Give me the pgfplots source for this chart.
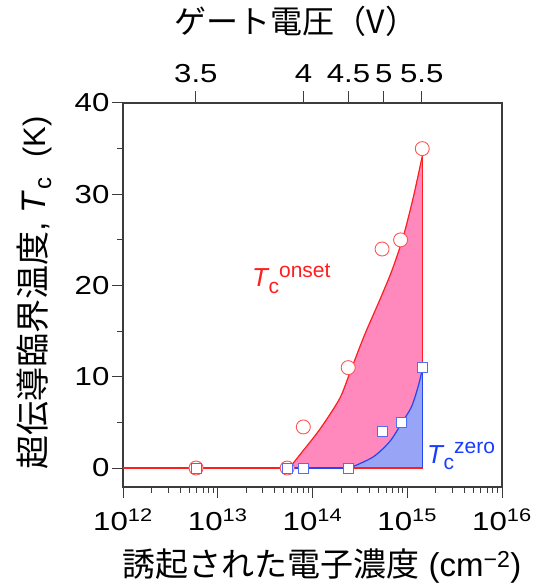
\documentclass[border=0pt]{standalone}
\usepackage{fontspec}
\setmainfont{Liberation Sans}
\newfontfamily\jp{Noto Sans CJK JP}
\usepackage{pgfplots}
\pgfplotsset{compat=1.18}
\definecolor{pinkfill}{RGB}{255,136,188}
\definecolor{bluefill}{RGB}{152,164,245}
\definecolor{redline}{RGB}{255,30,30}
\definecolor{blueline}{RGB}{40,70,240}
\definecolor{circ}{RGB}{255,85,85}
\definecolor{sq}{RGB}{80,110,245}
\definecolor{txtblue}{RGB}{25,60,255}
\definecolor{axgray}{RGB}{60,60,60}
\newcommand{\tickfont}{\fontsize{26}{26}\selectfont}
\begin{document}
\begin{tikzpicture}
\path[use as bounding box] (-123pt,-100pt) rectangle (411pt,487pt);
\begin{axis}[
  at={(0,0)}, anchor=south west, scale only axis,
  width=379pt, height=384pt,
  xmode=log, xmin=1e12, xmax=1e16, ymin=-2.08, ymax=40,
  axis line style={line width=1.1pt, draw=axgray},
  every tick/.style={line width=1.0pt, draw=axgray},
  tick align=outside,
  major tick length=11pt, minor tick length=6pt,
  xtick pos=bottom, ytick pos=left,
  xtick={1e12,1e13,1e14,1e15,1e16},
  xticklabels={10\textsuperscript{12},10\textsuperscript{13},10\textsuperscript{14},10\textsuperscript{15},10\textsuperscript{16}},
  minor xtick={2e12,3e12,4e12,5e12,6e12,7e12,8e12,9e12,2e13,3e13,4e13,5e13,6e13,7e13,8e13,9e13,2e14,3e14,4e14,5e14,6e14,7e14,8e14,9e14,2e15,3e15,4e15,5e15,6e15,7e15,8e15,9e15},
  ytick={0,10,20,30,40}, yticklabels={0,10,20,30,40},
  minor ytick={5,15,25,35},
  ticklabel style={font=\tickfont, xscale=1.2, inner sep=2pt},
  xticklabel style={yshift=-9pt},
]
% fills
\addplot[draw=none, fill=pinkfill] coordinates {
 (5.71e13,0) (7.28e13,1.4) (1.186e14,4.2) (1.932e14,7.6) (2.512e14,10.6)
 (3.548e14,14.6) (5.117e14,18.4) (6.918e14,21.7) (9.036e14,25.3)
 (1.148e15,29.5) (1.449e15,34.3) (1.449e15,0)};
\addplot[draw=none, fill=bluefill] coordinates {
 (2.466e14,0) (4.345e14,1.2) (6.531e14,2.9) (8.69e14,4.9) (1.107e15,6.7)
 (1.300e15,8.9) (1.449e15,10.9) (1.449e15,0)};
% red line
\addplot[redline, line width=1.2pt] coordinates {(1e12,0) (5.71e13,0)};
\addplot[redline, line width=1.2pt, smooth, tension=0.5] coordinates {
 (5.71e13,0) (7.28e13,1.4) (1.186e14,4.2) (1.932e14,7.6) (2.512e14,10.6)
 (3.548e14,14.6) (5.117e14,18.4) (6.918e14,21.7) (9.036e14,25.3)
 (1.148e15,29.5) (1.449e15,34.3)};
\addplot[redline, line width=1.2pt] coordinates {(1.449e15,34.3) (1.449e15,0) (5.71e13,0)};
% blue line
\addplot[blueline, line width=1.2pt] coordinates {(5.5e13,0) (2.466e14,0)};
\addplot[blueline, line width=1.2pt, smooth, tension=0.5] coordinates {
 (2.466e14,0) (4.345e14,1.2) (6.531e14,2.9) (8.69e14,4.9) (1.107e15,6.7)
 (1.300e15,8.9) (1.449e15,10.9)};
\addplot[blueline, line width=1.2pt] coordinates {(1.449e15,10.9) (1.449e15,0)};
% onset circles
\addplot[only marks, mark=*, mark size=7pt, mark options={fill=white, draw=circ, line width=0.9pt}] coordinates {
 (5.9e12,0) (5.4e13,0) (8.0e13,4.5) (2.38e14,11) (5.42e14,24) (8.5e14,25) (1.44e15,35)};
% zero squares
\addplot[only marks, mark=square*, mark size=5pt, mark options={fill=white, draw=sq, line width=0.9pt}] coordinates {
 (5.9e12,0) (5.4e13,0) (8.1e13,0) (2.37e14,0) (5.46e14,4) (8.67e14,5) (1.44e15,11)};
\end{axis}
\begin{axis}[
  at={(0,0)}, anchor=south west, scale only axis,
  width=379pt, height=384pt,
  xmode=log, xmin=1e12, xmax=1e16, ymin=0, ymax=1,
  axis x line*=top, hide y axis,
  axis line style={line width=1.1pt, draw=axgray},
  every tick/.style={line width=1.0pt, draw=axgray},
  tick align=outside, major tick length=12pt,
  xtick={5.88e12,8.03e13,2.40e14,5.64e14,1.42e15},
  xticklabels={3.5,4,4.5,5,5.5},
  xminorticks=false,
  ticklabel style={font=\tickfont, xscale=1.2, inner sep=2pt},
  xticklabel style={yshift=6pt},
]
\addplot[draw=none] coordinates {(1e13,0.5)};
\end{axis}
% labels
\node[font=\fontsize{33}{33}\selectfont, anchor=center] at (199pt,-79pt)
  {{\jp 誘起された電子濃度} (cm\textsuperscript{−2})};
\node[font=\fontsize{32}{32}\selectfont, anchor=center] at (173pt,466pt)
  {\jp ゲート電圧（V）};
\node[font=\fontsize{34}{34}\selectfont, anchor=center, rotate=90] at (-89pt,194pt)
  {{\jp 超伝導臨界温度},\hspace{9pt}\textit{T}\kern1pt\raisebox{-6pt}{\fontsize{24}{24}\selectfont c}\hspace{20pt}{\fontsize{31}{31}\selectfont (K)}};
\node[font=\fontsize{26}{26}\selectfont, anchor=base west, text=redline, inner sep=0pt] at (129pt,200pt)
  {\textit{T}\kern-1pt\raisebox{-7pt}{\fontsize{21}{21}\selectfont c}\raisebox{9pt}{\fontsize{21}{21}\selectfont onset}};
\node[font=\fontsize{26}{26}\selectfont, anchor=base west, text=txtblue, inner sep=0pt] at (304pt,24pt)
  {\textit{T}\kern-1pt\raisebox{-7pt}{\fontsize{21}{21}\selectfont c}\raisebox{9pt}{\fontsize{21}{21}\selectfont zero}};
\end{tikzpicture}
\end{document}
